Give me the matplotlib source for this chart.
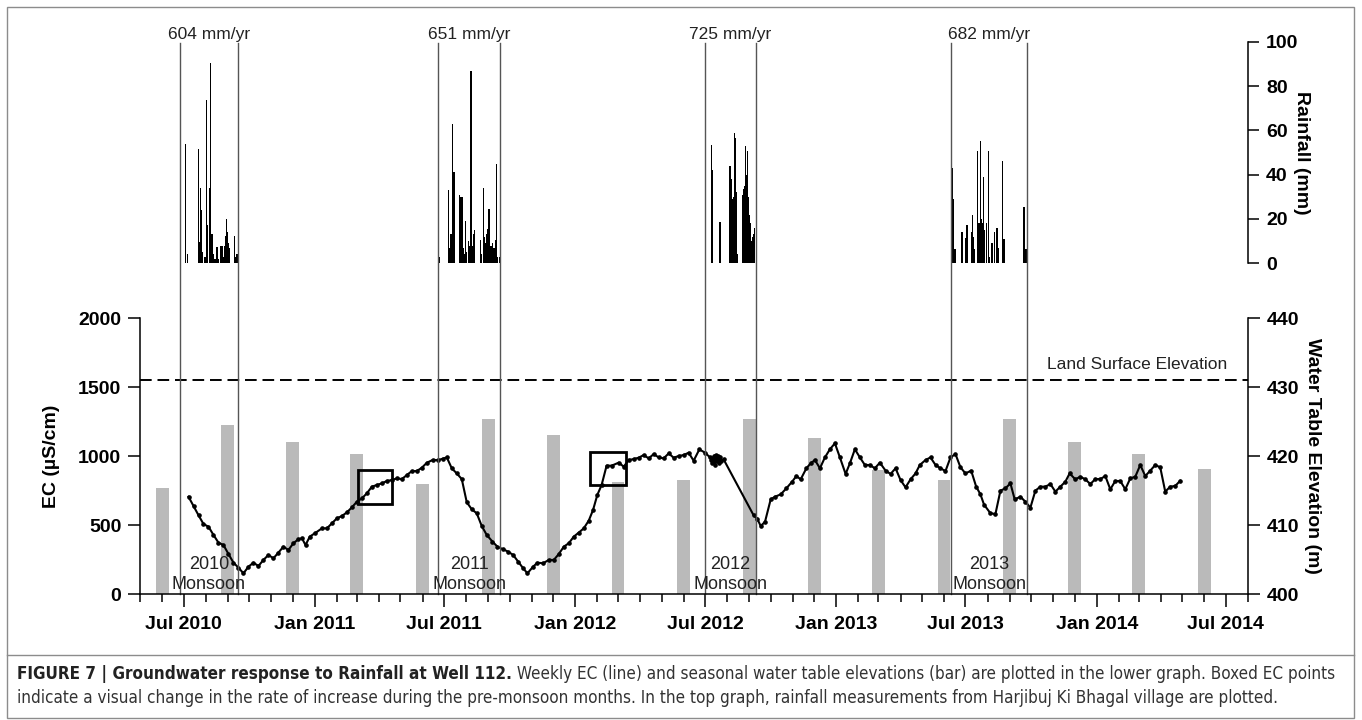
import numpy as np
import pandas as pd
import matplotlib
matplotlib.use("Agg")
import matplotlib.pyplot as plt
import matplotlib.dates as mdates
import matplotlib.patches as patches
import matplotlib.lines as mlines
import matplotlib.transforms as mtransforms
from matplotlib import font_manager

# weekly EC (uS/cm); sample day counted from 1 May 2010
ec_day = [68, 75, 82, 89, 96, 103, 110, 117, 124, 131, 138, 145, 152, 159, 166, 173, 180, 187,
          194, 201, 208, 215, 222, 227, 232, 238, 245, 255, 262, 269, 276, 283, 290, 297, 304,
          311, 318, 325, 332, 339, 346, 353, 360, 367, 374, 381, 388, 395, 402, 410, 418, 424,
          430, 437, 444, 451, 458, 465, 472, 479, 486, 494, 501, 509, 516, 523, 530, 537, 543,
          551, 557, 565, 573, 580, 587, 594, 601, 608, 615, 622, 629, 635, 641, 647, 654, 661,
          671, 678, 685, 692, 699, 706, 713, 720, 727, 734, 741, 748, 755, 762, 769, 776, 784,
          792, 799, 801, 802, 803, 804, 805, 806, 807, 808, 809, 810, 811, 812, 813, 815, 818,
          860, 865, 870, 876, 884, 890, 898, 906, 914, 920, 926, 934, 940, 946, 953, 960, 967,
          974, 981, 989, 995, 1002, 1009, 1016, 1023, 1030, 1037, 1045, 1052, 1059, 1066, 1073,
          1080, 1087, 1093, 1101, 1108, 1115, 1122, 1129, 1136, 1143, 1150, 1157, 1165, 1172,
          1178, 1183, 1192, 1199, 1206, 1213, 1220, 1226, 1234, 1241, 1248, 1255, 1262, 1269,
          1276, 1283, 1290, 1297, 1303, 1311, 1318, 1325, 1332, 1339, 1346, 1353, 1360, 1367,
          1374, 1381, 1388, 1395, 1402, 1409, 1416, 1423, 1430, 1437, 1444, 1451, 1458]
ec_val = [707, 640, 573, 509, 490, 430, 374, 357, 292, 229, 193, 152, 200, 229, 205, 249, 285, 261,
          302, 345, 321, 370, 399, 406, 357, 418, 442, 478, 478, 514, 551, 567, 594, 630, 671,
          695, 732, 780, 792, 804, 821, 828, 840, 835, 864, 893, 893, 917, 953, 973, 973, 982,
          992, 913, 876, 835, 667, 616, 587, 495, 430, 382, 345, 326, 309, 285, 237, 189, 152,
          200, 229, 225, 249, 249, 292, 345, 370, 418, 447, 478, 534, 611, 720, 792, 932, 932,
          954, 925, 973, 980, 990, 1009, 985, 1016, 992, 985, 1021, 990, 1002, 1009, 1026, 968, 1050,
          1026, 992, 975, 950, 990, 961, 1005, 937, 1009, 990, 965, 1000, 985, 955, 997, 968, 978,
          573, 549, 495, 525, 688, 707, 724, 768, 816, 857, 833, 913, 949, 973, 913, 992, 1051,
          1094, 992, 872, 949, 1051, 992, 937, 937, 913, 954, 896, 872, 913, 828, 775,
          833, 876, 937, 973, 992, 937, 913, 893, 992, 1016, 920, 876, 896, 780,
          724, 650, 587, 582, 751, 768, 804, 688, 707, 671, 628, 751, 780, 780,
          799, 744, 780, 816, 876, 833, 852, 833, 799, 835, 835, 857, 761, 821,
          821, 761, 840, 852, 937, 857, 896, 937, 920, 744, 780, 785, 823]

# seasonal water table elevation (m)
wt_date = ["2010-06-01", "2010-09-01", "2010-12-01", "2011-03-01", "2011-06-01", "2011-09-01",
           "2011-12-01", "2012-03-01", "2012-06-01", "2012-09-01", "2012-12-01", "2013-03-01",
           "2013-06-01", "2013-09-01", "2013-12-01", "2014-03-01", "2014-06-01"]
wt_elev = [415.4, 424.6, 422.0, 420.4, 416.0, 425.4, 423.1, 416.3, 416.6, 425.4, 422.7, 418.0,
           416.6, 425.4, 422.0, 420.4, 418.1]

# daily rainfall (mm), Harjibuj Ki Bhagal
rain_date = ["2010-06-27", "2010-07-04", "2010-07-07", "2010-07-22", "2010-07-23", "2010-07-24",
             "2010-07-25", "2010-07-26", "2010-07-27", "2010-07-28", "2010-07-30", "2010-07-31",
             "2010-08-02", "2010-08-03", "2010-08-04", "2010-08-06", "2010-08-07", "2010-08-08",
             "2010-08-10", "2010-08-11", "2010-08-12", "2010-08-14", "2010-08-17", "2010-08-19",
             "2010-08-22", "2010-08-24", "2010-08-25", "2010-08-26", "2010-08-27", "2010-08-28",
             "2010-08-29", "2010-08-30", "2010-08-31", "2010-09-01", "2010-09-02", "2010-09-03",
             "2010-09-10", "2010-09-12", "2010-09-14", "2010-09-15",
             "2011-06-25", "2011-07-07", "2011-07-08", "2011-07-09", "2011-07-10", "2011-07-11",
             "2011-07-13", "2011-07-15", "2011-07-16", "2011-07-23", "2011-07-24", "2011-07-25",
             "2011-07-27", "2011-07-28", "2011-07-29", "2011-07-31", "2011-08-02", "2011-08-04",
             "2011-08-06", "2011-08-08", "2011-08-09", "2011-08-10", "2011-08-11", "2011-08-13",
             "2011-08-21", "2011-08-23", "2011-08-25", "2011-08-26", "2011-08-27", "2011-08-28",
             "2011-08-29", "2011-08-30", "2011-08-31", "2011-09-01", "2011-09-02", "2011-09-03",
             "2011-09-04", "2011-09-05", "2011-09-06", "2011-09-07", "2011-09-08", "2011-09-09",
             "2011-09-11", "2011-09-13", "2011-09-14", "2011-09-17",
             "2012-07-10", "2012-07-11", "2012-07-22", "2012-08-05", "2012-08-06", "2012-08-07",
             "2012-08-08", "2012-08-09", "2012-08-10", "2012-08-11", "2012-08-12", "2012-08-13",
             "2012-08-14", "2012-08-15", "2012-08-22", "2012-08-23", "2012-08-24", "2012-08-25",
             "2012-08-26", "2012-08-27", "2012-08-28", "2012-08-29", "2012-08-30", "2012-08-31",
             "2012-09-01", "2012-09-02", "2012-09-03", "2012-09-04", "2012-09-05", "2012-09-06",
             "2012-09-07", "2012-09-08",
             "2013-06-12", "2013-06-13", "2013-06-14", "2013-06-15", "2013-06-16", "2013-06-17",
             "2013-06-26", "2013-07-01", "2013-07-03", "2013-07-09", "2013-07-11", "2013-07-12",
             "2013-07-13", "2013-07-18", "2013-07-19", "2013-07-20", "2013-07-21", "2013-07-22",
             "2013-07-23", "2013-07-24", "2013-07-25", "2013-07-26", "2013-07-27", "2013-07-28",
             "2013-07-30", "2013-08-02", "2013-08-04", "2013-08-07", "2013-08-11", "2013-08-13",
             "2013-08-14", "2013-08-15", "2013-08-16", "2013-08-22", "2013-08-24", "2013-09-21",
             "2013-09-22", "2013-09-24"]
rain_mm = [15.5, 54, 4, 51.7, 9.5, 3, 34, 24, 5, 2, 2, 3,
           73.6, 6, 17.5, 34, 8, 90.5, 13, 5, 4, 2, 7.5, 2,
           8, 8, 5, 3, 8, 6, 12.5, 20, 10, 14, 9, 7,
           12.5, 3, 4, 1,
           2.7, 33, 5, 7, 6, 13, 63, 41, 41, 30.6, 5, 30,
           30, 7, 4, 19, 5, 10, 8, 86.7, 8, 8, 13, 15,
           10.5, 4, 34, 8, 12, 6, 9, 13, 15.5, 8, 24.6, 6,
           4, 8, 4, 9, 5, 7, 10.5, 44.6, 2.7, 2.7,
           53.5, 42, 18.5, 44, 40, 38, 29, 29, 30, 59, 45, 56.6,
           32, 4, 31, 20, 33.6, 28, 35, 53, 40, 50.7, 30, 25,
           22, 18, 14, 10, 12, 10, 13, 16,
           43, 30, 29, 6.5, 6.5, 6.5, 14.3, 11.3, 17.3, 14.3, 22, 12,
           6.5, 50.7, 10, 18, 12.5, 55, 20, 18, 10, 39, 15, 12.5,
           18, 50.7, 2.7, 9, 14, 15, 16, 10, 7, 46, 11, 25.6,
           8.3, 6.5]

monsoon_start = ["2010-06-26", "2011-06-23", "2012-07-01", "2013-06-11"]
monsoon_end = ["2010-09-15", "2011-09-18", "2012-09-10", "2013-09-25"]
monsoon_year = ["2010", "2011", "2012", "2013"]
monsoon_total = ["604 mm/yr", "651 mm/yr", "725 mm/yr", "682 mm/yr"]

land_surface = 431.0

# boxed pre-monsoon EC points
box_start = ["2011-03-02", "2012-01-22"]
box_end = ["2011-04-19", "2012-03-12"]
box_lo = [654, 793]
box_hi = [901, 1033]

caption_bold = "FIGURE 7 | Groundwater response to Rainfall at Well 112."
caption_rest = (" Weekly EC (line) and seasonal water table elevations (bar) are plotted in the lower graph."
                " Boxed EC points")
caption_line2 = ("indicate a visual change in the rate of increase during the pre-monsoon months. In the top graph,"
                 " rainfall measurements from Harjibuj Ki Bhagal village are plotted.")

W, H = 1362, 720
plt.rcParams['font.family'] = ['Liberation Sans', 'DejaVu Sans']
plt.rcParams['font.weight'] = 'bold'
plt.rcParams['font.size'] = 14


def fx(px):
    return px / W


def fy(py):
    return 1 - py / H


fig = plt.figure(figsize=(W / 100, H / 100), dpi=100)

ax = fig.add_axes([fx(140), fy(594.3), fx(1248) - fx(140), fy(318.3) - fy(594.3)])
ax2 = ax.twinx()
ax.set_zorder(ax2.get_zorder() + 1)
ax.patch.set_visible(False)
axr = fig.add_axes([fx(140), fy(263.3), fx(1248) - fx(140), fy(41.7) - fy(263.3)])
axr.patch.set_visible(False)

t0 = pd.Timestamp("2010-05-01")
t1 = pd.Timestamp("2014-08-01")

# water table bars (behind)
ax2.bar(pd.to_datetime(wt_date), np.array(wt_elev) - 400, bottom=400, width=18,
        color='#bababa', linewidth=0)
ax2.axhline(land_surface, color='black', lw=1.4, dashes=(6, 3))
ax2.text(0.981, 0.831, "Land Surface Elevation", transform=ax2.transAxes, ha='right', va='center',
         fontsize=12.5, fontweight='normal', color='#222222')

# EC line
ec_t = t0 + pd.to_timedelta(ec_day, unit="D")
ax.plot(ec_t, ec_val, color='black', lw=1.5, marker='o', markersize=2.3)

for s, e, lo, hi in zip(box_start, box_end, box_lo, box_hi):
    x0 = mdates.date2num(pd.Timestamp(s))
    x1 = mdates.date2num(pd.Timestamp(e))
    ax.add_patch(patches.Rectangle((x0, lo), x1 - x0, hi - lo, fill=False, lw=2, ec='black', zorder=5))

# rainfall
axr.bar(pd.to_datetime(rain_date), rain_mm, width=1.8, color='black', linewidth=0)

# monsoon period lines spanning both panels
trans = mtransforms.blended_transform_factory(ax.transData, fig.transFigure)
for s, e, yr, tot in zip(monsoon_start, monsoon_end, monsoon_year, monsoon_total):
    xs = mdates.date2num(pd.Timestamp(s))
    xe = mdates.date2num(pd.Timestamp(e))
    for x in (xs, xe):
        ln = mlines.Line2D([x, x], [fy(594.3), fy(43)], transform=trans, color='#555555', lw=1.0,
                           clip_on=False)
        ax.add_artist(ln)
    xm = (xs + xe) / 2
    ax.text(xm, fy(39), tot, transform=trans, ha='center', va='baseline', fontsize=12.5,
            fontweight='normal', color='#222222')
    ax.text(xm, 145, yr + "\nMonsoon", ha='center', va='center', fontsize=13,
            fontweight='normal', color='#222222')

# axes styling
for a in (ax, ax2, axr):
    a.set_xlim(t0, t1)
ax.set_ylim(0, 2000)
ax2.set_ylim(400, 440)
axr.set_ylim(0, 100)

ax.set_yticks([0, 500, 1000, 1500, 2000])
ax2.set_yticks([400, 410, 420, 430, 440])
axr.set_yticks([0, 20, 40, 60, 80, 100])

ax.xaxis.set_major_locator(mdates.MonthLocator(bymonth=[1, 7]))
ax.xaxis.set_minor_locator(mdates.MonthLocator())
ax.xaxis.set_major_formatter(mdates.DateFormatter('%b %Y'))

ax.spines['top'].set_visible(False)
ax.spines['right'].set_visible(False)
for sp in ('top', 'left', 'bottom'):
    ax2.spines[sp].set_visible(False)
    axr.spines[sp].set_visible(False)
for a in (ax, ax2, axr):
    for sp in a.spines.values():
        sp.set_linewidth(1.1)

ax.tick_params(axis='x', which='major', direction='out', length=9.5, width=1.1, pad=6, labelsize=14)
ax.tick_params(axis='x', which='minor', direction='out', length=6, width=1.1)
ax.tick_params(axis='y', direction='out', length=8.5, width=1.1, pad=5, labelsize=14)
ax2.tick_params(axis='y', direction='out', length=8.5, width=1.1, pad=5, labelsize=14)
axr.yaxis.tick_right()
axr.xaxis.set_visible(False)
axr.tick_params(axis='y', direction='out', length=8, width=1.1, pad=5, labelsize=14)

ax.set_ylabel("EC (µS/cm)", fontsize=14, fontweight='bold')
ax.yaxis.set_label_coords(-0.072, 0.5)
ax2.set_ylabel("Water Table Elevation (m)", fontsize=14, fontweight='bold', rotation=270, va='bottom')
ax2.yaxis.set_label_coords(1.0505, 0.5)
axr.yaxis.set_label_position('right')
axr.set_ylabel("Rainfall (mm)", fontsize=14, fontweight='bold', rotation=270, va='bottom')
axr.yaxis.set_label_coords(1.0406, 0.5)

# frame and caption box
fig.add_artist(patches.Rectangle((fx(7), fy(718)), fx(1354) - fx(7), fy(7) - fy(718),
                                 transform=fig.transFigure, fill=False, ec='#8c8c8c', lw=1))
fig.add_artist(mlines.Line2D([fx(7), fx(1354)], [fy(655), fy(655)], transform=fig.transFigure,
                             color='#8c8c8c', lw=1))

# caption: prefer a narrow face if one is installed
fonts = font_manager.fontManager.ttflist
narrow_reg = narrow_bold = None
for key in ('LiberationSansNarrow', 'DejaVuSansCondensed', 'ArialNarrow'):
    for f in fonts:
        base = f.fname.replace('\\', '/').split('/')[-1].replace('-', '').replace('_', '')
        if base.startswith(key):
            rest_name = base[len(key):].lower()
            if rest_name.startswith('bold.') and narrow_bold is None:
                narrow_bold = f.fname
            elif rest_name.startswith('regular.') or rest_name.startswith('.'):
                if narrow_reg is None:
                    narrow_reg = f.fname
    if narrow_reg and narrow_bold:
        break
    narrow_reg = narrow_bold = None

size = 11.0
if narrow_reg and narrow_bold:
    fp_b = font_manager.FontProperties(fname=narrow_bold, size=size)
    fp_r = font_manager.FontProperties(fname=narrow_reg, size=size)
else:
    fp_b = font_manager.FontProperties(family=['Liberation Sans'], weight='bold', size=size)
    fp_r = font_manager.FontProperties(family=['Liberation Sans'], weight='normal', size=size)

tb = fig.text(fx(17), fy(679), caption_bold, fontproperties=fp_b, color='#222222', va='baseline')
tr = fig.text(fx(17), fy(679), caption_rest, fontproperties=fp_r, color='#333333', va='baseline')
t2 = fig.text(fx(17), fy(703), caption_line2, fontproperties=fp_r, color='#333333', va='baseline')
renderer = fig.canvas.get_renderer()
for _ in range(3):
    wb = tb.get_window_extent(renderer).width
    wr = tr.get_window_extent(renderer).width
    size = size * 1318 / (wb + wr)
    for t in (tb, tr, t2):
        t.set_fontsize(size)
wb = tb.get_window_extent(renderer).width
tr.set_x(fx(17 + wb))

fig.savefig("out.png", dpi=100)
